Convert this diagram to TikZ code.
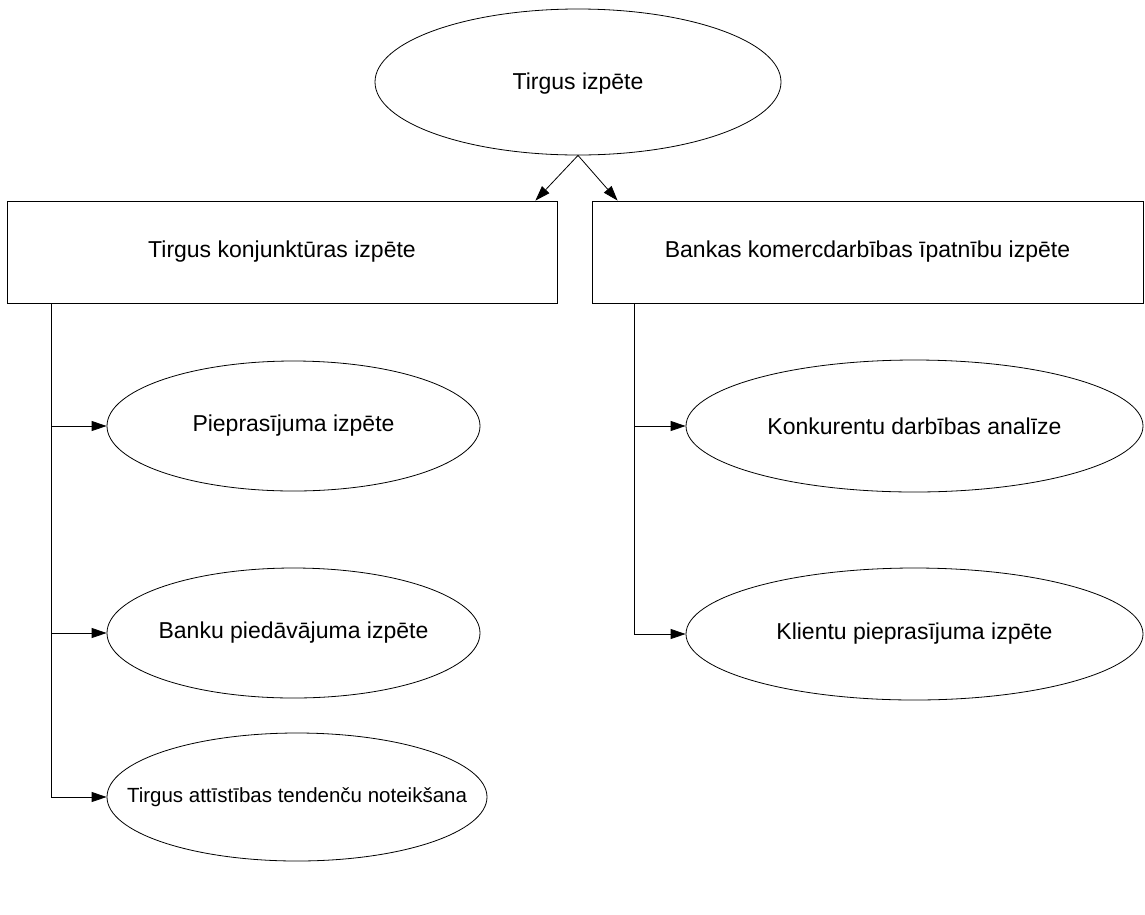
\documentclass[tikz,border=0pt]{standalone}
\usepackage{fontspec}
\setmainfont{Liberation Sans}
\usetikzlibrary{shapes.geometric,arrows.meta}
\begin{document}
\begin{tikzpicture}[x=1pt,y=-1pt,
  line width=0.8pt,
  oval/.style={draw, ellipse, inner sep=0pt},
  box/.style={draw, rectangle, inner sep=0pt},
  lbl/.style={font=\fontsize{23}{27}\selectfont},
  smalllbl/.style={font=\fontsize{20.5}{24}\selectfont},
  arr/.style={-{Triangle[length=15pt,width=10pt]}}]
\useasboundingbox (0,0) rectangle (1145,914);

% root
\node[oval, minimum width=406pt, minimum height=146pt] (root) at (578,82) {};
\node[lbl] at ([yshift=-2pt]root.center) {Tirgus izpēte};

% two main branches
\node[box, minimum width=550pt, minimum height=102pt] (lrect) at (282,252) {};
\node[lbl] at (lrect) {Tirgus konjunktūras izpēte};
\node[box, minimum width=551pt, minimum height=102pt] (rrect) at (867.5,252) {};
\node[lbl] at (rrect) {Bankas komercdarbības īpatnību izpēte};

% left sub-tasks
\node[oval, minimum width=373pt, minimum height=130pt] (e1) at (293.5,426) {};
\node[lbl] at (e1) {Pieprasījuma izpēte};
\node[oval, minimum width=373pt, minimum height=130pt] (e2) at (293.5,633) {};
\node[lbl] at (e2) {Banku piedāvājuma izpēte};
\node[oval, minimum width=380pt, minimum height=128pt] (e3) at (297,797) {};
\node[smalllbl] at (e3) {Tirgus attīstības tendenču noteikšana};

% right sub-tasks
\node[oval, minimum width=457pt, minimum height=132pt] (e4) at (914.5,426) {};
\node[lbl] at (e4) {Konkurentu darbības analīze};
\node[oval, minimum width=457pt, minimum height=132pt] (e5) at (914.5,634) {};
\node[lbl] at (e5) {Klientu pieprasījuma izpēte};

% connectors
\draw[arr] (root.south) -- ([xshift=-22pt]lrect.north east);
\draw[arr] (root.south) -- ([xshift=26pt]rrect.north west);

\coordinate (lbus) at ([xshift=45pt]lrect.south west);
\draw[arr] (lbus) |- (e1.west);
\draw[arr] (lbus) |- (e2.west);
\draw[arr] (lbus) |- (e3.west);

\coordinate (rbus) at ([xshift=43pt]rrect.south west);
\draw[arr] (rbus) |- (e4.west);
\draw[arr] (rbus) |- (e5.west);
\end{tikzpicture}
\end{document}
